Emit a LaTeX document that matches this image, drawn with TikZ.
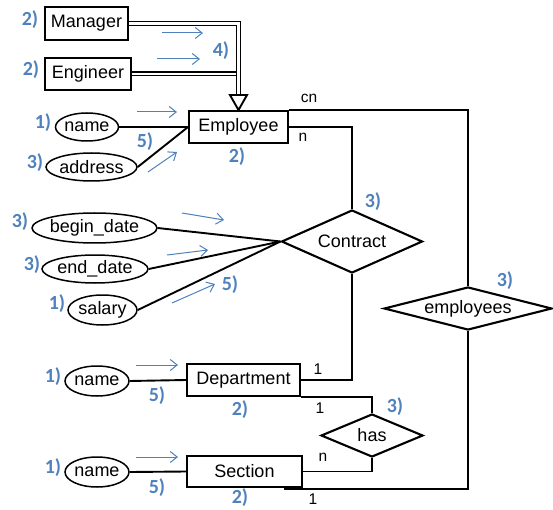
\documentclass[tikz,border=0pt]{standalone}
\usepackage{fontspec}
\setmainfont{Liberation Sans}
\newfontfamily\lblfont{Carlito}
\usetikzlibrary{shapes.geometric,arrows.meta,calc}
\definecolor{annblue}{RGB}{79,129,189}
\tikzset{
  ent/.style={draw,line width=1.9pt,rectangle,inner sep=0pt,font=\fontsize{18}{20}\selectfont},
  attr/.style={draw,line width=1.5pt,ellipse,inner sep=0pt,font=\fontsize{18}{20}\selectfont},
  rel/.style={draw,line width=2.1pt,diamond,inner sep=0pt,font=\fontsize{18}{20}\selectfont},
  conn/.style={line width=1.9pt},
  card/.style={inner sep=0pt,font=\fontsize{15.5}{18}\selectfont},
  ann/.style={inner sep=0pt,text=annblue,font=\lblfont\bfseries\fontsize{20}{22}\selectfont},
  hint/.style={draw=annblue,line width=1pt,-{Straight Barb[length=7pt,width=11pt]}},
  isa/.style={double,double distance=2.2pt,line width=1.4pt}
}
\begin{document}
\begin{tikzpicture}[x=1pt,y=-1pt]
\useasboundingbox (0,0) rectangle (553,510);
% entities
\node[ent,minimum width=83,minimum height=33] (manager) at (86.5,23.5) {Manager};
\node[ent,minimum width=86,minimum height=32] (engineer) at (88,74) {Engineer};
\node[ent,minimum width=99,minimum height=32] (employee) at (238.5,127) {Employee};
\node[ent,minimum width=113,minimum height=32] (department) at (243.5,380) {Department};
\node[ent,minimum width=115,minimum height=31] (section) at (244.5,471.5) {Section};
% relationships
\node[rel,minimum width=141,minimum height=63] (contract) at (352,241.5) {\makebox[0pt]{Contract}};
\node[rel,minimum width=168,minimum height=43] (employees) at (468,308.5) {\makebox[0pt]{employees}};
\node[rel,minimum width=102,minimum height=43] (has) at (372,435.5) {\makebox[0pt]{has}};
% attributes
\node[attr,minimum width=63,minimum height=28] (ename) at (87,127) {\makebox[0pt]{name}};
\node[attr,minimum width=91,minimum height=28] (address) at (91.5,167) {\makebox[0pt]{address}};
\node[attr,minimum width=125,minimum height=30] (begin) at (94.5,228) {\makebox[0pt]{begin\_date}};
\node[attr,minimum width=106,minimum height=28] (end) at (95,269) {\makebox[0pt]{end\_date}};
\node[attr,minimum width=69,minimum height=30] (salary) at (102.5,310) {\makebox[0pt]{salary}};
\node[attr,minimum width=64,minimum height=30] (dname) at (97,381) {\makebox[0pt]{name}};
\node[attr,minimum width=64,minimum height=30] (sname) at (97,472) {\makebox[0pt]{name}};
% ISA
\coordinate (tritop) at ($(employee.north)+(0,-15)$);
\draw[isa] (engineer.east) -- (engineer.east -| tritop);
\draw[isa] (manager.east) -- (manager.east -| tritop) -- (tritop);
\draw[line width=1.9pt,fill=white,line join=miter] ($(tritop)+(-8.5,0)$) -- ($(tritop)+(8.5,0)$) -- (employee.north) -- cycle;
% attribute links
\draw[conn] (ename.east) -- (employee.west);
\draw[conn] (address.east) -- (employee.west);
\draw[conn] (begin.east) -- (contract.west);
\draw[conn] (end.east) -- (contract.west);
\draw[conn] (salary.east) -- (contract.west);
\draw[conn] (dname.east) -- (department.west);
\draw[conn] (sname.east) -- (section.west);
% relationship links
\draw[conn] (employee.north east) -| (employees.north);
\draw[conn] (employee.east) -| (contract.north);
\draw[conn] (contract.south) |- (department.east);
\draw[conn] (department.south east) -| (has.north);
\draw[conn] (has.south) |- (section.east);
\coordinate (secfoot) at ($(section.south east)+(-19,1)$);
\draw[conn] (secfoot) -| (employees.south);
% cardinalities
\node[card] (c1) at (309,98) {cn};
\node[card] (c2) at (303,137) {n};
\node[card] (c3) at (318,369) {1};
\node[card] (c4) at (320,408) {1};
\node[card] (c5) at (323,457) {n};
\node[card] (c6) at (313,499) {1};
% annotation labels
\node[ann] (a1) at (30,20) {2)};
\node[ann] (a2) at (31,70) {2)};
\node[ann] (a3) at (221,51) {4)};
\node[ann] (a4) at (43,123) {1)};
\node[ann] (a5) at (35,163) {3)};
\node[ann] (a6) at (145,142) {5)};
\node[ann] (a7) at (237,157) {2)};
\node[ann] (a8) at (373,202) {3)};
\node[ann] (a9) at (20,222) {3)};
\node[ann] (a10) at (32,265) {3)};
\node[ann] (a11) at (57,304) {1)};
\node[ann] (a12) at (230,285) {5)};
\node[ann] (a13) at (505,281) {3)};
\node[ann] (a14) at (53,377) {1)};
\node[ann] (a15) at (157,396) {5)};
\node[ann] (a16) at (240,410) {2)};
\node[ann] (a17) at (395,407) {3)};
\node[ann] (a18) at (53,468) {1)};
\node[ann] (a19) at (157,488) {5)};
\node[ann] (a20) at (240,498) {2)};
% annotation arrows
\draw[hint] (162,33) -- (203,33);
\draw[hint] (157,59) -- (200,59);
\draw[hint] (137,112) -- (177,112);
\draw[hint] (148,172) -- (177,152);
\draw[hint] (182,213) -- (224,220);
\draw[hint] (167,255) -- (208,250);
\draw[hint] (172,303) -- (215,284);
\draw[hint] (136,365) -- (178,365);
\draw[hint] (136,457) -- (178,457);
\end{tikzpicture}
\end{document}
